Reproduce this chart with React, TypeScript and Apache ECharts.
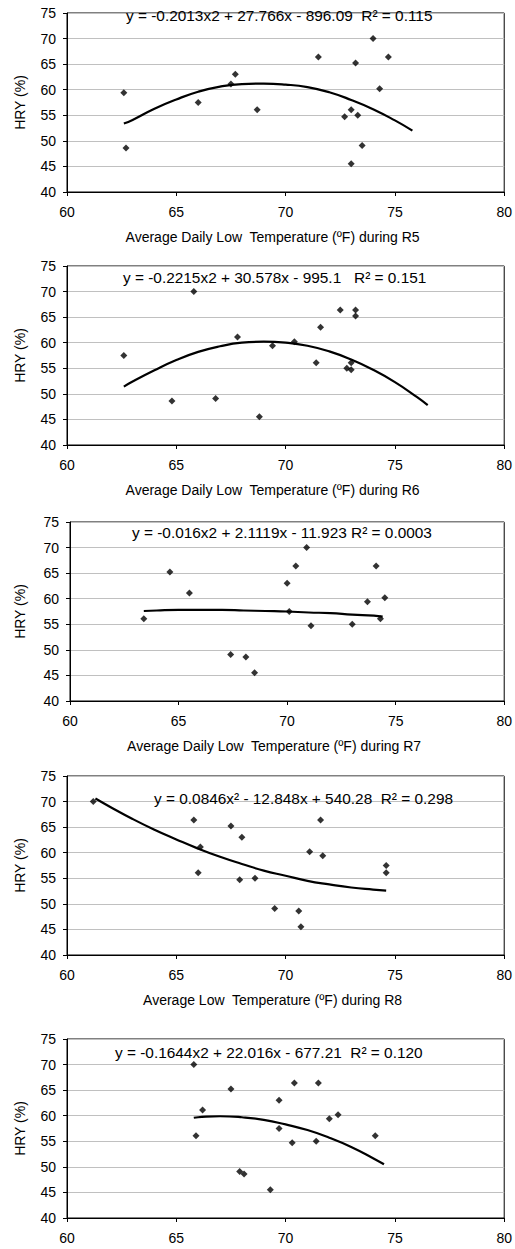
import React, { useEffect, useRef } from "react";
import * as echarts from "echarts";

// ---- Data ----
// R5 panel
const r5Temp = [62.6, 62.7, 66.0, 67.5, 67.7, 68.7, 71.5, 72.7, 73.0, 73.0, 73.2, 73.3, 73.5, 74.0, 74.3, 74.7];
const r5Hry = [59.4, 48.6, 57.5, 61.1, 63.0, 56.1, 66.4, 54.7, 56.1, 45.5, 65.2, 55.0, 49.1, 70.0, 60.2, 66.4];
const r5FitTemp = [62.6, 63, 64, 65, 66, 67, 68, 69, 70, 71, 72, 73, 74, 75, 75.8];
const r5FitHry = [53.4, 54.1, 56.3, 58.1, 59.6, 60.6, 61.1, 61.2, 61.0, 60.5, 59.5, 58.0, 56.2, 54.0, 52.0];

// R6 panel
const r6Temp = [62.6, 64.8, 65.8, 66.8, 67.8, 68.8, 69.4, 70.4, 71.4, 71.6, 72.5, 72.8, 73.0, 73.0, 73.2, 73.2];
const r6Hry = [57.5, 48.6, 70.0, 49.1, 61.1, 45.5, 59.4, 60.2, 56.1, 63.0, 66.4, 55.0, 54.7, 56.1, 66.4, 65.2];
const r6FitTemp = [62.6, 63, 64, 65, 66, 67, 68, 69, 70, 71, 72, 73, 74, 75, 76, 76.5];
const r6FitHry = [51.4, 52.4, 54.6, 56.6, 58.2, 59.3, 60.0, 60.2, 60.0, 59.4, 58.3, 56.7, 54.7, 52.3, 49.4, 47.8];

// R7 panel
const r7Temp = [63.4, 64.6, 65.5, 67.4, 68.1, 68.5, 70.0, 70.1, 70.4, 70.9, 71.1, 73.0, 73.7, 74.1, 74.3, 74.5];
const r7Hry = [56.1, 65.2, 61.1, 49.1, 48.6, 45.5, 63.0, 57.5, 66.4, 70.0, 54.7, 55.0, 59.4, 66.4, 56.1, 60.2];
const r7FitTemp = [63.4, 64, 65, 66, 67, 68, 69, 70, 71, 72, 73, 74, 74.4];
const r7FitHry = [57.6, 57.7, 57.8, 57.8, 57.8, 57.7, 57.6, 57.5, 57.3, 57.2, 56.9, 56.7, 56.5];

// R8 panel
const r8Temp = [61.2, 65.8, 66.0, 66.1, 67.5, 68.0, 67.9, 68.6, 69.5, 70.6, 70.7, 71.1, 71.6, 71.7, 74.6, 74.6];
const r8Hry = [70.0, 66.4, 56.1, 61.1, 65.2, 63.0, 54.7, 55.0, 49.1, 48.6, 45.5, 60.2, 66.4, 59.4, 57.5, 56.1];
const r8FitTemp = [61.3, 62, 63, 64, 65, 66, 67, 68, 69, 70, 71, 72, 73, 74, 74.6];
const r8FitHry = [70.6, 68.9, 66.6, 64.5, 62.6, 60.8, 59.2, 57.8, 56.5, 55.5, 54.5, 53.8, 53.2, 52.8, 52.6];

// Fifth panel (no axis title)
const p5Temp = [65.8, 65.9, 66.2, 67.5, 67.9, 68.1, 69.3, 69.7, 69.7, 70.3, 70.4, 71.4, 71.5, 72.0, 72.4, 74.1];
const p5Hry = [70.0, 56.1, 61.1, 65.2, 49.1, 48.6, 45.5, 63.0, 57.5, 54.7, 66.4, 55.0, 66.4, 59.4, 60.2, 56.1];
const p5FitTemp = [65.8, 66, 67, 68, 69, 70, 71, 72, 73, 74, 74.5];
const p5FitHry = [59.6, 59.7, 59.9, 59.7, 59.2, 58.3, 57.2, 55.7, 53.9, 51.7, 50.5];

const equations = [
  "y = -0.2013x2 + 27.766x - 896.09  R\u00b2 = 0.115",
  "y = -0.2215x2 + 30.578x - 995.1   R\u00b2 = 0.151",
  "y = -0.016x2 + 2.1119x - 11.923 R\u00b2 = 0.0003",
  "y = 0.0846x\u00b2 - 12.848x + 540.28  R\u00b2 = 0.298",
  "y = -0.1644x2 + 22.016x - 677.21  R\u00b2 = 0.120",
];

const xTitles = [
  "Average Daily Low  Temperature (\u00baF) during R5",
  "Average Daily Low  Temperature (\u00baF) during R6",
  "Average Daily Low  Temperature (\u00baF) during R7",
  "Average Low  Temperature (\u00baF) during R8",
  "",
];
const yTitle = "HRY (%)";

const panels = [
  { temp: r5Temp, hry: r5Hry, fitT: r5FitTemp, fitH: r5FitHry },
  { temp: r6Temp, hry: r6Hry, fitT: r6FitTemp, fitH: r6FitHry },
  { temp: r7Temp, hry: r7Hry, fitT: r7FitTemp, fitH: r7FitHry },
  { temp: r8Temp, hry: r8Hry, fitT: r8FitTemp, fitH: r8FitHry },
  { temp: p5Temp, hry: p5Hry, fitT: p5FitTemp, fitH: p5FitHry },
];

// ---- Layout ----
const layout = [
  { left: 67, top: 13, width: 440, eqX: 126, eqY: 15, nameGap: 40 },
  { left: 67, top: 266, width: 440, eqX: 123, eqY: 277, nameGap: 40 },
  { left: 70, top: 522, width: 441, eqX: 132, eqY: 532, nameGap: 43 },
  { left: 67, top: 776, width: 440, eqX: 154, eqY: 798, nameGap: 40 },
  { left: 67, top: 1039, width: 440, eqX: 115, eqY: 1052, nameGap: 40 },
];

const FONT = "'Liberation Sans', Arial, sans-serif";

export default function App() {
  const ref = useRef<HTMLDivElement>(null);

  useEffect(() => {
    if (!ref.current) return;
    const chart = echarts.init(ref.current, undefined, { renderer: "svg" });

    const grid = layout.map((l) => ({
      left: l.left,
      top: l.top,
      width: l.width,
      height: 179,
      show: true,
      borderColor: "#000",
      borderWidth: 1,
      backgroundColor: "#fff",
    }));

    const xAxis = panels.map((_, i) => ({
      type: "value",
      gridIndex: i,
      min: 60,
      max: 80,
      interval: 5,
      name: xTitles[i],
      nameLocation: "middle",
      nameGap: 38,
      nameTextStyle: {
        fontFamily: FONT,
        fontSize: 14,
        color: "#000",
        padding: [0, 26, 0, 0],
      },
      axisLine: { show: true, onZero: false, lineStyle: { color: "#000", width: 1 } },
      axisTick: { show: true, length: 4, lineStyle: { color: "#000" } },
      axisLabel: { margin: 13, fontSize: 14, color: "#000", fontFamily: FONT },
      splitLine: { show: false },
    }));

    const yAxis = panels.map((_, i) => ({
      type: "value",
      gridIndex: i,
      min: 40,
      max: 75,
      interval: 5,
      name: yTitle,
      nameLocation: "middle",
      nameGap: layout[i].nameGap,
      nameTextStyle: { fontFamily: FONT, fontSize: 14, color: "#000" },
      axisLine: { show: true, onZero: false, lineStyle: { color: "#000", width: 1 } },
      axisTick: { show: true, length: 4, lineStyle: { color: "#000" } },
      axisLabel: { margin: 11, fontSize: 14, color: "#000", fontFamily: FONT },
      splitLine: { show: true, lineStyle: { color: "#c0c0c0", width: 1 } },
    }));

    const series: any[] = [];
    panels.forEach((p, i) => {
      series.push({
        type: "scatter",
        xAxisIndex: i,
        yAxisIndex: i,
        data: p.temp.map((t, j) => [t, p.hry[j]]),
        symbol: "diamond",
        symbolSize: 7,
        itemStyle: { color: "#000" },
        z: 3,
      });
      series.push({
        type: "line",
        xAxisIndex: i,
        yAxisIndex: i,
        data: p.fitT.map((t, j) => [t, p.fitH[j]]),
        smooth: true,
        symbol: "none",
        showSymbol: false,
        lineStyle: { color: "#000", width: 2.2 },
        z: 2,
      });
    });

    const graphic = layout.map((l, i) => ({
      type: "text",
      x: l.eqX,
      y: l.eqY,
      z: 10,
      style: {
        text: equations[i],
        font: `15.4px ${FONT}`,
        fill: "#000",
        align: "left",
        verticalAlign: "middle",
      },
    }));

    chart.setOption({
      animation: false,
      backgroundColor: "#fff",
      grid,
      xAxis,
      yAxis,
      series,
      graphic,
    });

    return () => chart.dispose();
  }, []);

  return (
    <div
      ref={ref}
      style={{ position: "absolute", left: 0, top: 0, width: 515, height: 1249 }}
    />
  );
}
